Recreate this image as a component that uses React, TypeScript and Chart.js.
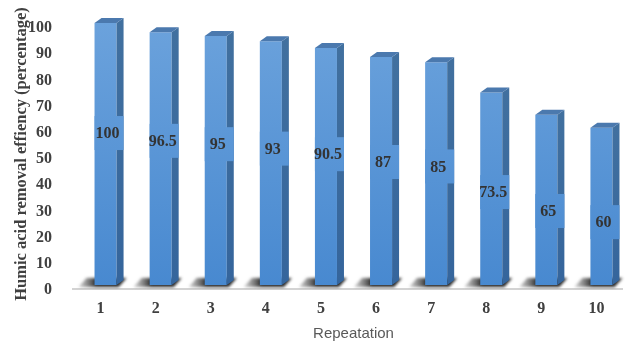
import { useEffect, useRef } from "react";
import { Chart, registerables } from "chart.js";

Chart.register(...registerables);

// Repetition runs and the humic acid removal efficiency (%) measured in each
const repetitions = ["1", "2", "3", "4", "5", "6", "7", "8", "9", "10"];
const removalEfficiency = [100, 96.5, 95, 93, 90.5, 87, 85, 73.5, 65, 60];

const yMin = 0;
const yMax = 100;
const yStep = 10;

const yAxisTitle = "Humic acid removal effiency (percentage)";
const xAxisTitle = "Repeatation";

// Pseudo-3D extrusion of each column (pixels to the right / upwards)
const DEPTH_X = 7;
const DEPTH_Y = 5;

const SERIF = "'Liberation Serif', 'Times New Roman', serif";
const SANS = "'Liberation Sans', Arial, sans-serif";

function frontGradient(chart: Chart) {
  const { ctx, chartArea } = chart;
  const g = ctx.createLinearGradient(0, chartArea.top, 0, chartArea.bottom);
  g.addColorStop(0, "#6ba2dc");
  g.addColorStop(1, "#4889d0");
  return g;
}

// Floor edge and the soft shadow each column casts on it
const floorPlugin = {
  id: "floor3d",
  beforeDatasetsDraw(chart: Chart) {
    const { ctx, chartArea } = chart;
    const base = chart.scales.y.getPixelForValue(0);
    const meta = chart.getDatasetMeta(0);
    ctx.save();
    ctx.strokeStyle = "#d3d3d3";
    ctx.lineWidth = 2;
    ctx.beginPath();
    ctx.moveTo(chartArea.left - 6, base + 4);
    ctx.lineTo(chartArea.right - 6, base + 4);
    ctx.stroke();

    ctx.filter = "blur(1.8px)";
    meta.data.forEach((el: any) => {
      const w = el.width;
      const left = el.x - w / 2;
      const right = el.x + w / 2;
      const g = ctx.createLinearGradient(left - 16, 0, right + DEPTH_X, 0);
      g.addColorStop(0, "rgba(120,120,120,0.35)");
      g.addColorStop(0.4, "rgba(25,25,25,0.95)");
      g.addColorStop(1, "rgba(25,25,25,0.95)");
      ctx.fillStyle = g;
      ctx.beginPath();
      ctx.moveTo(left - 16, base + 2);
      ctx.lineTo(right + 2, base + 2);
      ctx.lineTo(right + DEPTH_X + 3, base - 7);
      ctx.lineTo(left - 8, base - 7);
      ctx.closePath();
      ctx.fill();
    });
    ctx.filter = "none";
    ctx.restore();
  },
};

// Side and top faces of the columns, plus the value labels
const columnPlugin = {
  id: "columns3d",
  afterDatasetsDraw(chart: Chart) {
    const { ctx } = chart;
    const yScale = chart.scales.y;
    const meta = chart.getDatasetMeta(0);
    const values = chart.data.datasets[0].data as number[];
    ctx.save();
    meta.data.forEach((el: any) => {
      const w = el.width;
      const left = el.x - w / 2;
      const right = el.x + w / 2;
      const top = el.y;
      const bottom = el.base;

      const side = ctx.createLinearGradient(0, top, 0, bottom);
      side.addColorStop(0, "#41709f");
      side.addColorStop(1, "#35659c");
      ctx.fillStyle = side;
      ctx.beginPath();
      ctx.moveTo(right, top);
      ctx.lineTo(right + DEPTH_X, top - DEPTH_Y);
      ctx.lineTo(right + DEPTH_X, bottom - DEPTH_Y);
      ctx.lineTo(right, bottom);
      ctx.closePath();
      ctx.fill();

      ctx.fillStyle = "#4b79ae";
      ctx.beginPath();
      ctx.moveTo(left, top);
      ctx.lineTo(right, top);
      ctx.lineTo(right + DEPTH_X, top - DEPTH_Y);
      ctx.lineTo(left + DEPTH_X, top - DEPTH_Y);
      ctx.closePath();
      ctx.fill();
    });

    const front = frontGradient(chart);
    ctx.font = `bold 16px ${SERIF}`;
    ctx.textAlign = "center";
    ctx.textBaseline = "middle";
    meta.data.forEach((el: any, i: number) => {
      const v = values[i];
      const w = el.width;
      const ly = yScale.getPixelForValue(0.85 * v - 27);
      const lx = el.x + 2;
      // label box in the column colour
      ctx.fillStyle = front;
      ctx.fillRect(el.x - w / 2, ly - 17, w + DEPTH_X, 34);
      ctx.fillStyle = "#333333";
      ctx.fillText(String(v), lx, ly + 1);
    });
    ctx.restore();
  },
};

export default function App() {
  const canvasRef = useRef<HTMLCanvasElement | null>(null);

  useEffect(() => {
    document.body.style.margin = "0";
    const canvas = canvasRef.current;
    if (!canvas) return;

    const chart = new Chart(canvas, {
      type: "bar",
      data: {
        labels: repetitions,
        datasets: [
          {
            data: removalEfficiency,
            backgroundColor: (c: any) => (c.chart.chartArea ? frontGradient(c.chart) : "#5b9bd5"),
            borderWidth: 0,
            barPercentage: 0.4,
            categoryPercentage: 1,
          },
        ],
      },
      options: {
        animation: false,
        responsive: true,
        maintainAspectRatio: false,
        devicePixelRatio: 1,
        layout: { padding: { left: 0, right: 7, top: 23, bottom: 0 } },
        plugins: {
          legend: { display: false },
          tooltip: { enabled: false },
        },
        scales: {
          x: {
            grid: { display: false },
            border: { display: false },
            ticks: {
              color: "#404040",
              font: { family: SERIF, size: 16, weight: "bold" },
              padding: 6,
              labelOffset: -5,
            },
            title: {
              display: true,
              text: xAxisTitle,
              color: "#595959",
              font: { family: SANS, size: 15 },
              padding: { top: 0, bottom: 0 },
            },
            afterFit: (s: any) => {
              s.height = 58;
            },
          },
          y: {
            min: yMin,
            max: yMax,
            grid: { display: false },
            border: { display: false },
            ticks: {
              stepSize: yStep,
              color: "#404040",
              font: { family: SERIF, size: 16, weight: "bold" },
              padding: 18,
              labelOffset: 5,
            },
            title: {
              display: true,
              text: yAxisTitle,
              color: "#404040",
              font: { family: SERIF, size: 16.5, weight: "bold" },
              padding: { top: 12, bottom: 0 },
            },
            afterFit: (s: any) => {
              s.width = 78;
              // keep the tick-label gap from pushing the plot area down
              s.paddingTop = 0;
              s.paddingBottom = 0;
            },
          },
        },
      },
      plugins: [floorPlugin, columnPlugin],
    });

    return () => chart.destroy();
  }, []);

  return (
    <div style={{ position: "fixed", left: 0, top: 0, width: 636, height: 343, background: "#ffffff" }}>
      <canvas ref={canvasRef} />
    </div>
  );
}
